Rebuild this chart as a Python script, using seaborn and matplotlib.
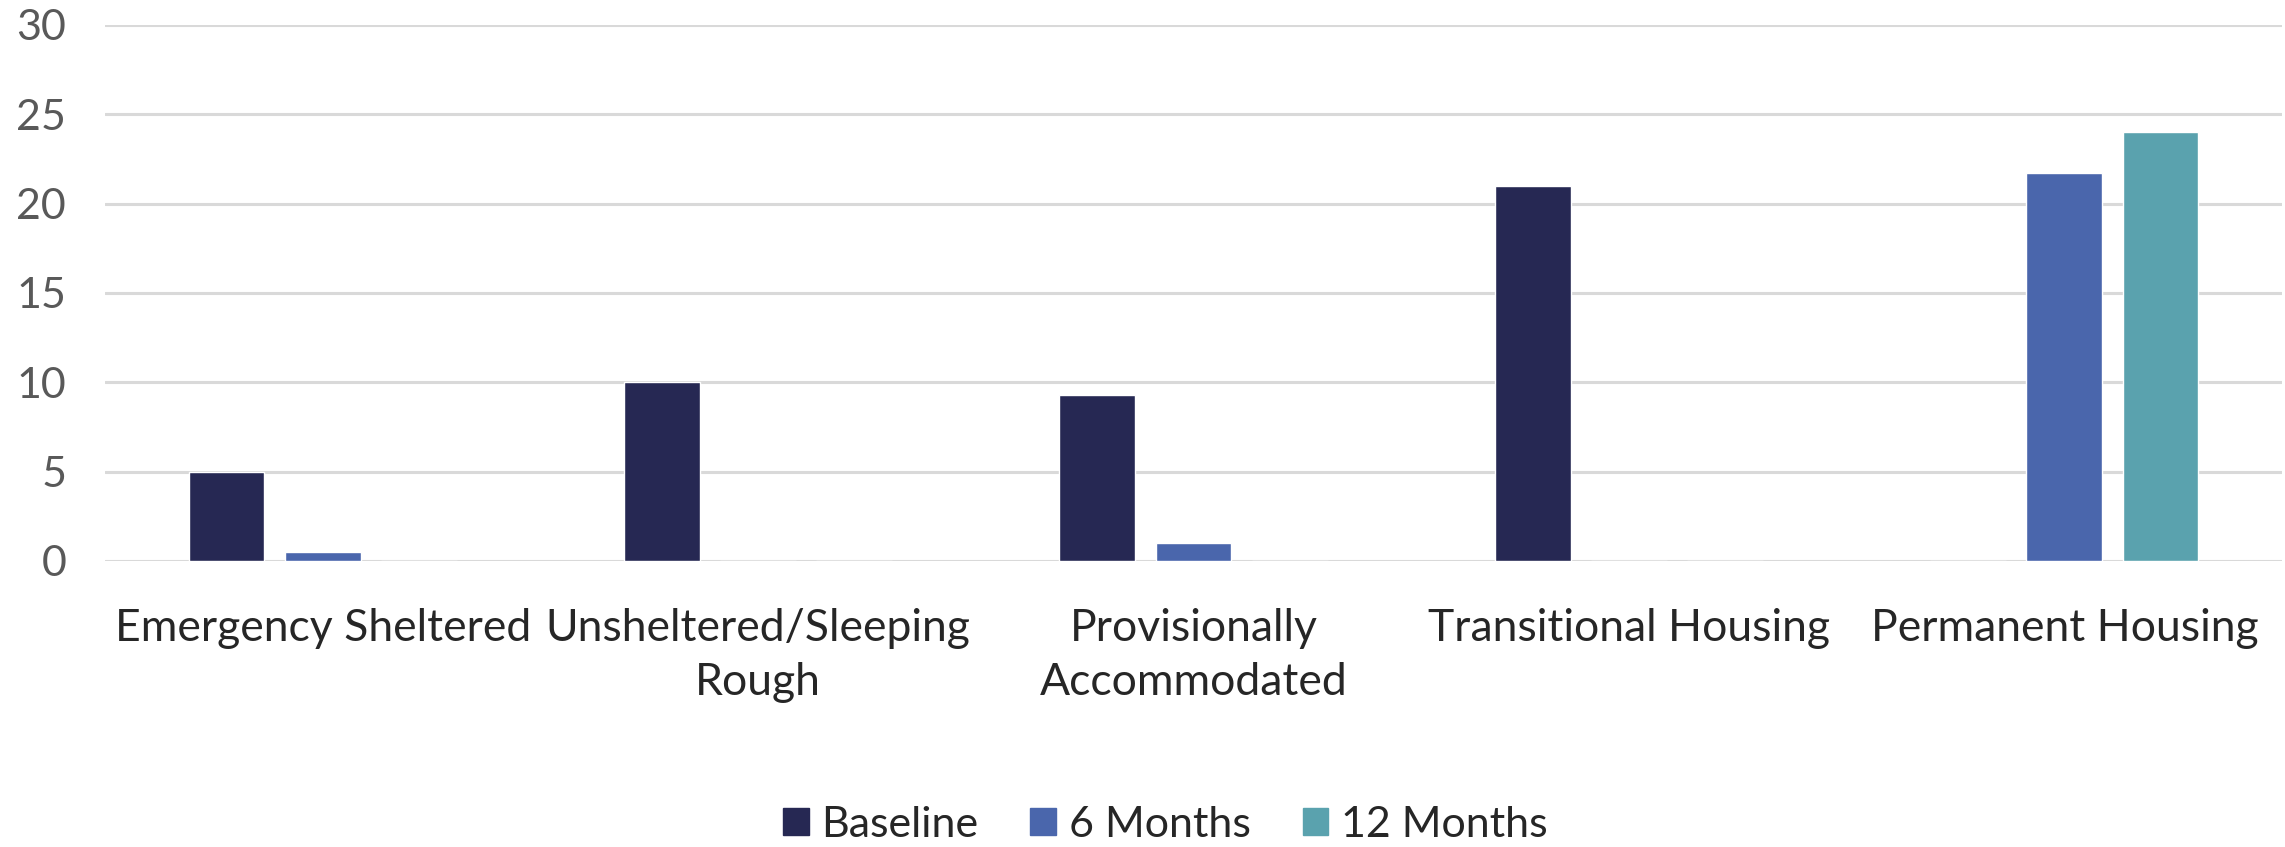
import matplotlib
matplotlib.use("Agg")
import matplotlib.pyplot as plt
import seaborn as sns
import pandas as pd

# Housing status counts by follow-up period
categories = [
    "Emergency Sheltered",
    "Unsheltered/Sleeping\nRough",
    "Provisionally\nAccommodated",
    "Transitional Housing",
    "Permanent Housing",
]
periods = ["Baseline", "6 Months", "12 Months"]
baseline = [5, 10, 9.3, 21, 0]
six_months = [0.5, 0, 1, 0, 21.7]
twelve_months = [0, 0, 0, 0, 24]
y_ticks = [0, 5, 10, 15, 20, 25, 30]

colors = ["#262853", "#4A66AC", "#5AA2AE"]

rows = []
for period, values in zip(periods, [baseline, six_months, twelve_months]):
    for cat, v in zip(categories, values):
        rows.append({"category": cat, "period": period, "value": v})
df = pd.DataFrame(rows)

sns.set_theme(style="white")
plt.rcParams["font.family"] = ["Lato", "DejaVu Sans"]

fig = plt.figure(figsize=(22.85, 8.47), dpi=100)
ax = fig.add_axes([0.046, 0.3377, 0.9527, 0.633])

sns.barplot(
    data=df, x="category", y="value", hue="period",
    order=categories, hue_order=periods, palette=colors,
    width=0.663, gap=0.212, saturation=1, errorbar=None,
    ax=ax, legend=False, zorder=3,
)

ax.set_ylim(0, 30)
ax.set_xlim(-0.5, len(categories) - 0.5)
ax.set_yticks(y_ticks)
ax.set_yticklabels([str(t) for t in y_ticks])
ax.yaxis.grid(True, color="#D9D9D9", linewidth=2.2, zorder=0)
ax.set_axisbelow(True)
for s in ax.spines.values():
    s.set_visible(False)
ax.set_xlabel("")
ax.set_ylabel("")

ax.tick_params(axis="y", length=0, pad=28, labelsize=31, labelcolor="#595959")
ax.tick_params(axis="x", length=0, pad=34, labelsize=32, labelcolor="#262626")
for lbl in ax.get_xticklabels():
    lbl.set_linespacing(1.4)

handles = [plt.Rectangle((0, 0), 1, 1, color=c) for c in colors]
leg = fig.legend(
    handles, periods, loc="lower center", bbox_to_anchor=(0.51, -0.042),
    ncol=3, frameon=False, fontsize=31, handlelength=0.6, handleheight=0.6,
    handletextpad=0.3, columnspacing=1.2,
)
for t in leg.get_texts():
    t.set_color("#262626")

fig.savefig("out.png", dpi=100)
